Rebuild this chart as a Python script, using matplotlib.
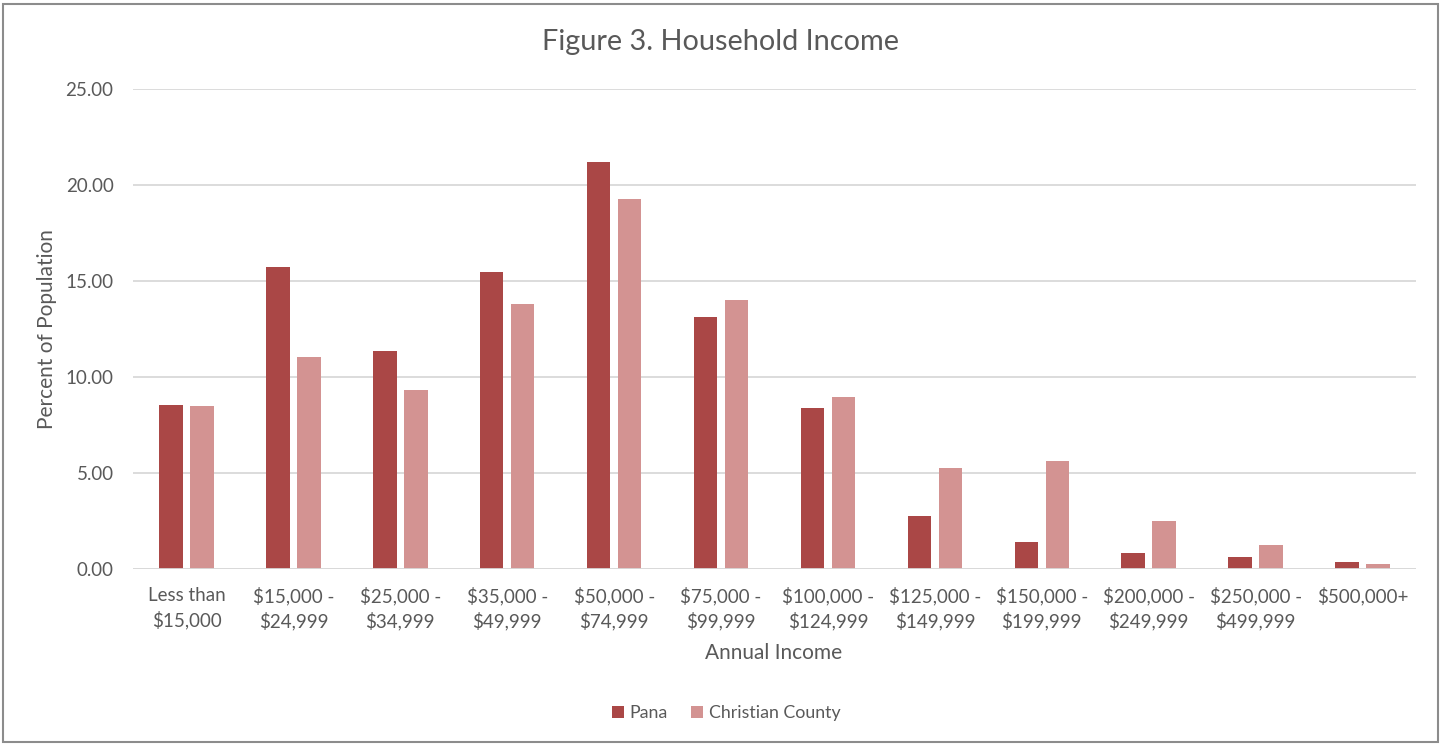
import numpy as np
import matplotlib
matplotlib.use('Agg')
import matplotlib.pyplot as plt
from matplotlib.patches import Rectangle

categories = ['Less than\n$15,000', '$15,000 -\n$24,999', '$25,000 -\n$34,999',
              '$35,000 -\n$49,999', '$50,000 -\n$74,999', '$75,000 -\n$99,999',
              '$100,000 -\n$124,999', '$125,000 -\n$149,999', '$150,000 -\n$199,999',
              '$200,000 -\n$249,999', '$250,000 -\n$499,999', '$500,000+']
pana = [8.52, 15.73, 11.34, 15.45, 21.21, 13.13, 8.39, 2.76, 1.42, 0.82, 0.64, 0.36]
christian = [8.49, 11.06, 9.32, 13.78, 19.25, 13.99, 8.96, 5.28, 5.63, 2.50, 1.23, 0.26]
y_ticks = [0, 5, 10, 15, 20, 25]

text_grey = '#595959'
plt.rcParams['font.family'] = ['Lato', 'DejaVu Sans']

fig = plt.figure(figsize=(14.42, 7.46), dpi=100)
ax = fig.add_axes([133 / 1442, 1 - 569 / 746, (1416 - 133) / 1442, (569 - 89) / 746])

x = np.arange(len(categories))
w = 0.22
off = 0.145
ax.bar(x - off, pana, w, color='#AA4746', label='Pana', zorder=3)
ax.bar(x + off, christian, w, color='#D39392', label='Christian County', zorder=3)

ax.set_xlim(-0.5, len(categories) - 0.5)
ax.set_ylim(0, 25)
ax.set_yticks(y_ticks)
ax.set_yticklabels([f'{v:.2f}' for v in y_ticks])
ax.set_xticks(x)
ax.set_xticklabels(categories, linespacing=1.4)
ax.tick_params(axis='y', length=0, pad=14, labelsize=13.5, labelcolor=text_grey)
ax.tick_params(axis='x', length=0, pad=13, labelsize=13.5, labelcolor=text_grey)
ax.grid(axis='y', color='#D9D9D9', lw=1.3, zorder=0)
for s in ax.spines.values():
    s.set_visible(False)
ax.axhline(0, color='#D9D9D9', lw=1.3, zorder=4)

fig.text(0.5, 1 - 42 / 746, 'Figure 3. Household Income', ha='center', va='center',
         fontsize=20.8, color=text_grey)
fig.text(47 / 1442, 1 - 329 / 746, 'Percent of Population', rotation=90,
         ha='center', va='center', fontsize=15, color=text_grey)
fig.text(774 / 1442, 1 - 653 / 746, 'Annual Income', ha='center', va='center',
         fontsize=15, color=text_grey)

fig.legend(loc='center', bbox_to_anchor=(726 / 1442, 1 - 713 / 746), ncol=2,
           frameon=False, fontsize=12.8, labelcolor=text_grey, handlelength=0.7,
           handleheight=0.7, handletextpad=0.3, columnspacing=1.3)

# thin frame round the whole chart
fig.patches.append(Rectangle((3 / 1442, 4 / 746), 1435 / 1442, 738 / 746,
                             transform=fig.transFigure, fill=False,
                             edgecolor='#8C8C8C', lw=1.5))

fig.savefig('out.png', dpi=100)
